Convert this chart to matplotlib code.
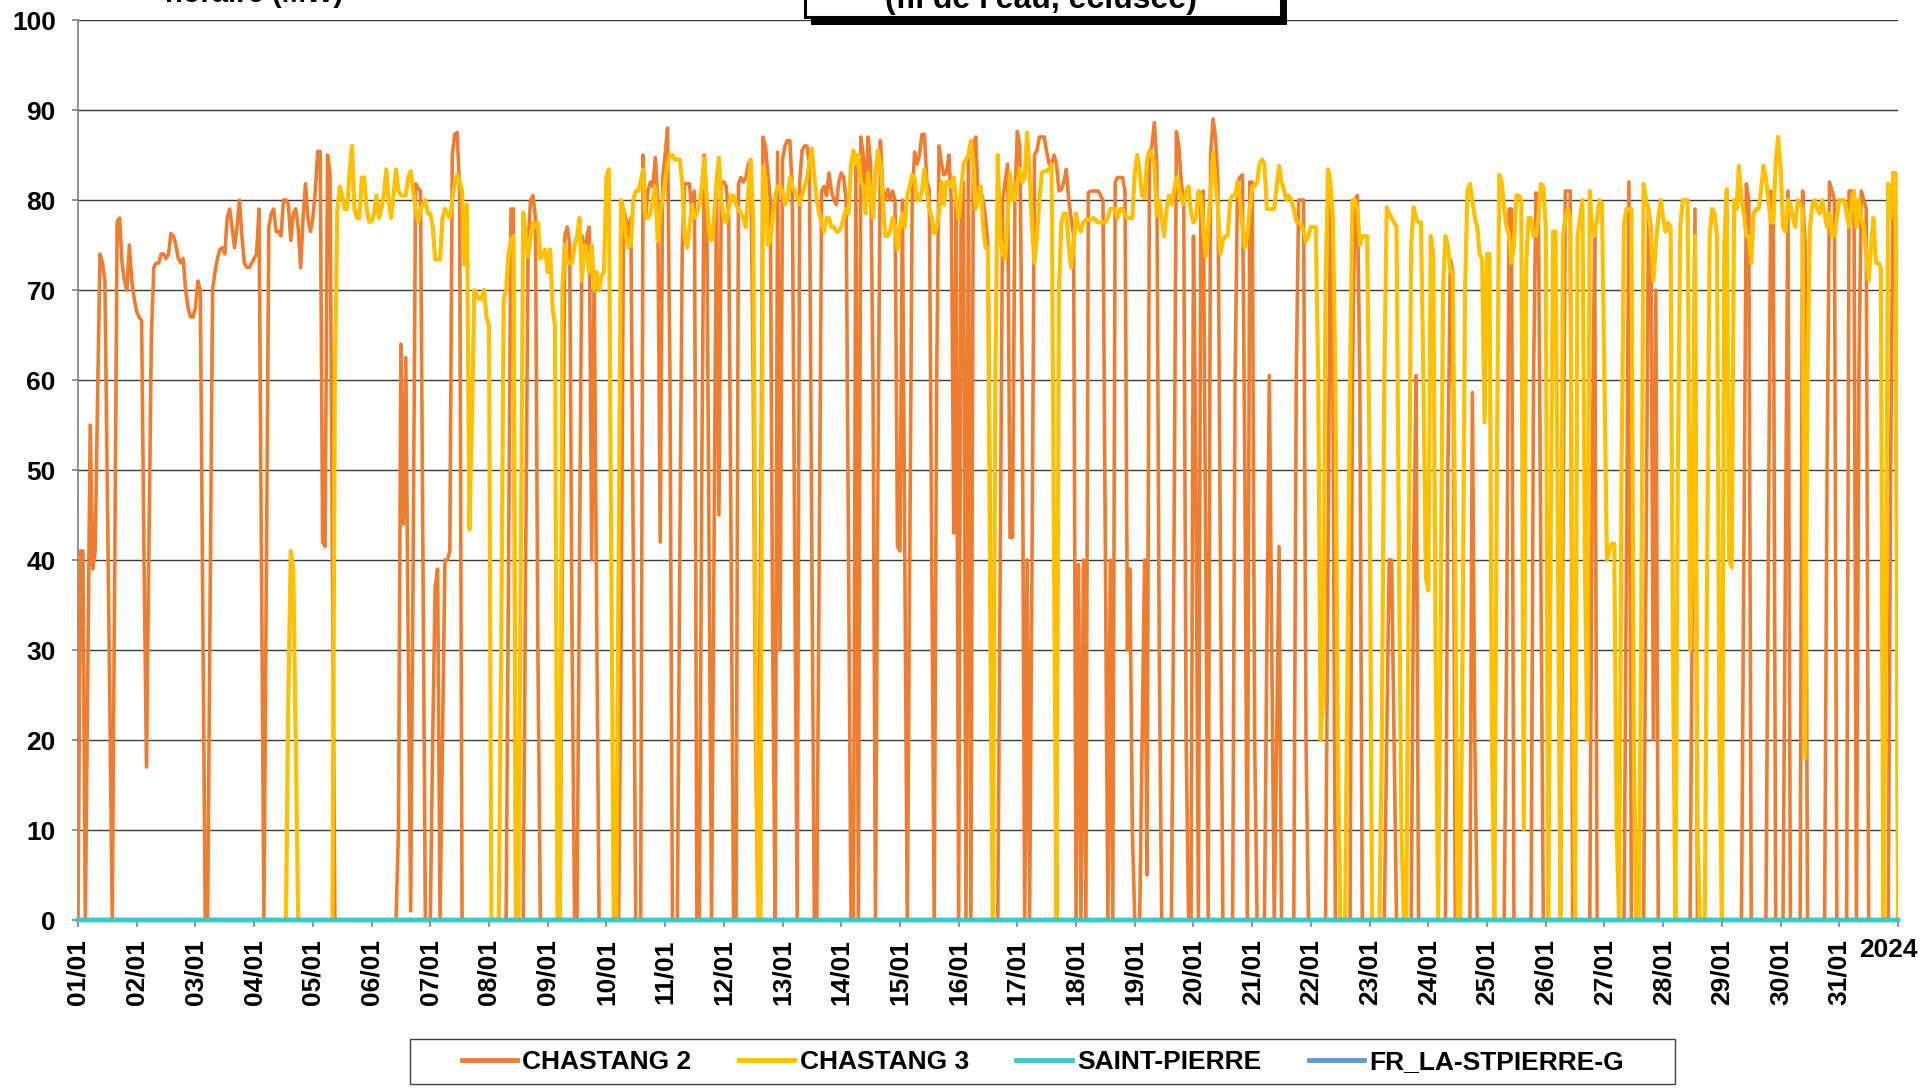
import matplotlib
matplotlib.use("Agg")
import matplotlib.pyplot as plt
from matplotlib.patches import Rectangle
from matplotlib.lines import Line2D
import numpy as np

plt.rcParams['font.family'] = ['Liberation Sans', 'DejaVu Sans']
plt.rcParams['font.weight'] = 'bold'

# hourly power (MW), January 2024, one list of 24 values per day
chastang2_days = [
    [0, 41, 41, 0, 28, 55, 39, 41, 58, 74, 73, 71, 48, 24, 0, 38, 77.6, 78, 73, 71, 70, 75, 71, 69],
    [67.6, 67, 66.6, 40, 17, 42, 65, 72.5, 73, 73, 74, 74, 73.5, 74, 76.3, 76, 75, 73.5, 73, 73.5, 70, 68, 67, 67],
    [68, 71, 70, 35, 0, 0, 35, 70, 72, 73.5, 74.5, 74.7, 74, 78, 79, 77, 74.7, 77, 80, 76, 73, 72.5, 72.5, 73],
    [73.5, 74, 79, 40, 0, 38, 77, 78.5, 79, 76.5, 76.5, 76, 80, 80, 79.5, 75.5, 78.5, 79, 77, 72.5, 78, 81.8, 78, 76.5],
    [78, 81, 85.4, 85.4, 42, 41.5, 85, 83, 40, 0, 0, 0, 0, 0, 0, 0, 0, 0, 0, 0, 0, 0, 0, 0],
    [0, 0, 0, 0, 0, 0, 0, 0, 0, 0, 0, 10, 64, 44, 62.5, 30, 1, 40, 81.8, 81.3, 81, 40, 0, 0],
    [0, 20, 37, 39, 0, 20, 40, 40, 41, 85, 87.3, 87.5, 81, 0, 0, 0, 0, 0, 0, 0, 0, 0, 0, 0],
    [0, 0, 0, 0, 0, 0, 0, 0, 40, 79, 79, 0, 0, 0, 0, 40, 75, 80, 80.5, 78, 30, 0, 0, 0],
    [0, 0, 0, 0, 0, 0, 40, 76, 77, 75, 30, 0, 0, 40, 76, 74, 76, 77, 40, 72, 35, 0, 0, 0],
    [0, 0, 0, 0, 0, 0, 30, 79, 78, 76, 78, 40, 0, 0, 0, 85, 78, 81, 82, 81.5, 84.7, 80, 42, 82.5],
    [85, 88, 60, 0, 0, 0, 40, 74.7, 81.8, 81.8, 81.8, 78, 81, 0, 0, 50, 85, 80, 40, 0, 40, 81.8, 45, 82],
    [82, 81.5, 78, 40, 0, 0, 81.8, 82.5, 82, 82.5, 84, 84.5, 60, 20, 0, 40, 87, 86, 83, 80, 30, 0, 85.3, 30],
    [84.5, 86, 86.6, 86.6, 81, 40, 0, 82, 85.5, 86, 86, 84, 40, 0, 0, 40, 81, 81.5, 80.5, 83, 81, 80, 79.5, 82],
    [83, 82.5, 80, 40, 0, 0, 85, 0, 87, 85, 80, 87, 84, 60, 0, 50, 86.6, 81, 80, 81.2, 80, 81, 80, 41.5],
    [41, 80, 40, 0, 40, 80, 85.3, 84, 85, 87.3, 87.3, 82, 81.2, 40, 0, 60, 86, 84, 82.8, 83, 85, 80, 43, 80],
    [0, 80, 82, 0, 84.7, 0, 86, 87, 80, 81, 80, 78, 75, 40, 0, 0, 0, 40, 80, 82, 84, 42.5, 42.5, 80],
    [87.6, 86, 60, 0, 40, 0, 40, 85, 85.5, 87, 87, 87, 85.3, 84, 84, 85, 84, 81, 81.2, 82, 83.4, 80, 78, 76],
    [0, 39.5, 0, 40, 0, 80.8, 81, 81, 81, 81, 80.5, 80, 40, 0, 40, 0, 82, 82.5, 82.5, 82.5, 81, 30, 39, 10],
    [0, 0, 0, 20, 40, 5, 85, 86, 88.6, 84, 30, 0, 0, 0, 0, 0, 40, 87.6, 86, 82, 80, 20, 0, 0],
    [76, 50, 0, 80.5, 81, 40, 0, 85, 89, 87, 82, 40, 0, 0, 0, 0, 0, 60, 82, 82.5, 82.8, 50, 0, 82],
    [82, 20, 0, 0, 0, 0, 30, 60.5, 30, 0, 20, 41.5, 0, 0, 0, 0, 0, 0, 60, 80, 80, 80, 20, 0],
    [0, 0, 0, 0, 0, 0, 0, 40, 81, 60, 0, 0, 0, 0, 0, 0, 0, 60, 80, 80.5, 60, 0, 0, 0],
    [0, 0, 0, 0, 0, 0, 0, 20, 40, 40, 20, 0, 0, 0, 0, 0, 0, 0, 40, 60.5, 0, 0, 0, 0],
    [0, 0, 0, 0, 0, 0, 0, 0, 50, 73.4, 72, 0, 0, 0, 0, 0, 0, 0, 58.6, 20, 0, 0, 0, 0],
    [0, 0, 0, 0, 0, 0, 0, 0, 30, 79, 79, 0, 0, 0, 0, 0, 0, 0, 0, 60, 80.8, 79, 40, 0],
    [0, 0, 0, 0, 0, 0, 0, 40, 81, 81, 81, 0, 0, 0, 0, 0, 0, 0, 0, 50, 76, 0, 0, 0],
    [0, 0, 0, 0, 0, 0, 0, 0, 0, 40, 82, 0, 0, 0, 0, 0, 0, 40, 79, 77, 20, 70, 0, 0],
    [0, 0, 0, 0, 0, 0, 0, 0, 0, 0, 0, 0, 40, 79, 0, 0, 0, 0, 0, 0, 0, 0, 0, 0],
    [0, 0, 0, 0, 0, 0, 0, 0, 0, 40, 81.8, 80, 0, 0, 0, 0, 0, 0, 0, 40, 81, 80, 0, 0],
    [0, 0, 40, 81, 0, 0, 0, 0, 0, 81, 75, 0, 0, 0, 0, 0, 0, 0, 0, 50, 82, 81, 80, 0],
    [0, 0, 0, 0, 81, 81, 81, 0, 60, 81, 80, 79, 0, 0, 0, 0, 0, 0, 0, 0, 0, 50, 83, 78],
]
chastang2_end = 0

chastang3_days = [
    [0] * 24,
    [0] * 24,
    [0] * 24,
    [0, 0, 0, 0, 0, 0, 0, 0, 0, 0, 0, 0, 0, 0, 25, 41, 39, 20, 0, 0, 0, 0, 0, 0],
    [0, 0, 0, 0, 0, 0, 0, 0, 0, 60, 79, 81.5, 80.5, 79, 79, 83, 86, 79, 78, 78, 82.5, 82.5, 79, 77.6],
    [77.6, 78.5, 80.5, 78, 79, 80.5, 83.4, 80, 78, 80.5, 83.4, 81, 80.5, 80.5, 80.5, 82.5, 83.2, 81, 79, 77.6, 79, 79.5, 80, 78.5],
    [78.5, 77, 73.4, 73.4, 73.4, 78, 79, 78.5, 78, 80, 81.8, 82.8, 82, 81, 72.8, 79.5, 43.4, 55, 70, 69.5, 69, 69, 70, 67],
    [66, 0, 0, 0, 0, 30, 69, 70, 74, 75.5, 76, 0, 0, 40, 78.6, 76, 73.7, 76, 77.5, 77, 77.5, 73.5, 74, 74.5],
    [72, 74.5, 68, 66, 0, 0, 70, 75, 73, 73, 73, 75, 76, 78, 71, 75, 74, 72, 75, 70, 72, 70, 71.5, 72],
    [82.5, 83.4, 40, 0, 0, 40, 80, 79, 76, 74.7, 75, 80, 81, 81, 82, 83.4, 78, 78, 78.5, 80, 81.5, 75.4, 78.5, 80],
    [82, 84, 85, 85, 84.5, 84.5, 84.5, 82, 76, 74.7, 77, 79.5, 78, 78.5, 79.5, 81.5, 84.7, 80, 76.5, 75.5, 78, 82, 84.7, 80],
    [78, 77.5, 79, 80.5, 80.5, 79.5, 79, 78.5, 78, 77, 81, 84.4, 78, 30, 0, 0, 83.7, 82.5, 75, 75.5, 78, 80.5, 81.5, 81.5],
    [81, 79.5, 80, 82.5, 81.5, 81, 80.5, 79.5, 80.5, 81.5, 82.5, 84, 85.7, 82.5, 80, 78.5, 77.5, 76.5, 78, 78, 77, 77, 76.5, 76.5],
    [77, 78, 79, 78.5, 84, 85.5, 84, 85, 82, 81.5, 78.5, 83, 81, 78, 83, 85.5, 84, 80, 76, 76, 76.5, 78, 77, 74.5],
    [77, 78.5, 77, 80.5, 81.5, 82.8, 82.5, 80, 80, 81, 83.4, 81, 79, 78, 76.3, 77, 78.5, 82, 79.5, 82, 82, 81.5, 82.5, 80],
    [78, 81, 84, 84.5, 85, 86.6, 84, 79, 80, 81.5, 77, 74.7, 74.7, 30, 0, 60, 85, 76, 74, 73.5, 78, 83, 80, 80],
    [82, 83.5, 82, 82.5, 87.5, 83, 77, 73, 76, 80, 83, 83.2, 83.2, 83.5, 84, 40, 0, 70, 77.5, 78.5, 78.5, 75, 72.5, 75],
    [78.5, 77, 76.5, 77.5, 77.8, 77.8, 77.8, 78, 77.8, 77.5, 77.5, 77.5, 77.5, 78, 79, 79, 79, 78, 79, 79, 78.3, 78, 78, 78],
    [83, 85, 83, 80.5, 80.2, 84.5, 85.5, 85, 84, 78.3, 80, 78, 76, 79, 80.5, 79.5, 81, 82.5, 81.5, 80, 79.5, 81, 81.5, 78.5],
    [77.5, 78, 81, 80.5, 77, 73.7, 77, 81, 85.3, 82, 79, 74, 75.5, 76, 76, 80, 80.5, 80.5, 82, 80, 77, 74.7, 76, 79],
    [81.5, 81.5, 82, 84, 84.5, 84, 79, 79, 79, 79, 81.5, 83.8, 82, 81, 80, 80.5, 80, 79, 77.6, 77.5, 77.3, 76.5, 75.4, 76],
    [77, 77, 77, 60, 20, 25, 70, 83.4, 82, 78, 60, 20, 0, 0, 0, 30, 60, 80, 80, 79, 75, 76, 76, 76],
    [50, 0, 0, 0, 0, 20, 60, 79.2, 78.5, 78, 77.5, 77, 40, 10, 0, 0, 40, 75, 79.2, 78, 77.5, 77.5, 60, 38],
    [36.6, 76, 74, 30, 0, 30, 70, 76, 75, 72, 72, 40, 0, 0, 30, 70, 81, 81.8, 80, 78, 77, 74, 73.4, 55.3],
    [74, 74, 20, 0, 50, 82.8, 82, 79, 77, 76, 73, 75, 80.5, 80.5, 80, 10, 73, 78, 78, 76, 76, 78, 81.8, 81.5],
    [77, 0, 40, 76.5, 76.5, 40, 0, 76, 78, 79, 78, 30, 0, 76, 78, 80, 40, 20, 81, 77, 76, 78, 80, 79.5],
    [60, 40, 41, 41.8, 41.8, 10, 0, 50, 77.3, 79, 79, 79, 20, 0, 0, 30, 81.8, 80, 79, 76, 71, 75, 78, 80],
    [78, 76.5, 77.5, 77, 30, 0, 50, 77, 80, 80, 80, 30, 40, 76, 10, 0, 0, 0, 40, 76, 79, 78.5, 76, 20],
    [0, 75, 81.2, 40, 39.2, 80, 79, 83.8, 80, 78.5, 76, 76, 73, 78.5, 79, 79, 81, 83.8, 82.5, 80, 77.5, 77.5, 84, 87],
    [83.5, 77, 76.5, 80, 79.5, 78, 77, 80, 79.5, 79, 18, 60, 77, 79.5, 80, 79, 78.5, 80, 78.5, 77, 78.5, 76, 76, 78],
    [80, 80, 80, 78.5, 77, 79.5, 81, 77, 80, 78, 77, 74, 71, 75, 78, 73, 73, 72.5, 0, 30, 81.8, 78, 82.8, 83],
]
chastang3_end = 0

# the two Saint-Pierre series stay at 0 MW the whole month
saint_pierre = [0] * 745
fr_la_stpierre = [0] * 745

day_labels = ["%02d/01" % d for d in range(1, 32)]
year_label = "2024"
series_names = ["CHASTANG 2", "CHASTANG 3", "SAINT-PIERRE", "FR_LA-STPIERRE-G"]
colors = ["#ED7D31", "#FFC000", "#33CCCC", "#5B9BD5"]

c2 = [v for day in chastang2_days for v in day] + [chastang2_end]
c3 = [v for day in chastang3_days for v in day] + [chastang3_end]
hours = np.arange(len(c2)) / 24.0   # days since 01/01 00:00

W, H = 1920, 1089
fig = plt.figure(figsize=(W / 100, H / 100), dpi=100)
ax = fig.add_axes([78 / W, 1 - 920 / H, 1820 / W, 900 / H])

ax.plot(hours, c2, color=colors[0], lw=2.6, zorder=3, solid_joinstyle="round")
ax.plot(hours, c3, color=colors[1], lw=3.0, zorder=4, solid_joinstyle="round")
ax.plot(hours, fr_la_stpierre, color=colors[3], lw=3.2, zorder=5, clip_on=False)
ax.plot(hours, saint_pierre, color=colors[2], lw=3.2, zorder=6, clip_on=False)

ax.set_xlim(0, 31)
ax.set_ylim(0, 100)
ax.set_yticks(np.arange(0, 101, 10))
ax.yaxis.grid(True, color="#3a3a3a", lw=1.0)
ax.set_axisbelow(True)

for s in ["top", "right"]:
    ax.spines[s].set_visible(False)
ax.spines["left"].set_color("#808080")
ax.spines["left"].set_linewidth(1.2)
ax.spines["bottom"].set_color("#808080")

ax.set_xticks(np.arange(32))
ax.set_xticklabels(day_labels + [""], rotation=90, fontsize=19, fontweight="bold")
ax.tick_params(axis="x", direction="out", length=5, width=1.2, color="#808080", pad=9)
ax.tick_params(axis="y", direction="out", length=4, width=1.2, color="#808080", pad=12,
               labelsize=19)
for lab in ax.get_yticklabels():
    lab.set_fontweight("bold")

fig.text(1888 / W, 1 - 938 / H, year_label, ha="center", va="top", fontsize=19, fontweight="bold")

# cut-off titles at the top of the picture
fig.text(165 / W, 1 - 2 / H, "horaire (MW)", ha="left", va="baseline", fontsize=21,
         fontweight="bold")
fig.patches.append(Rectangle((811 / W, 1 - 25 / H), 476 / W, 80 / H, transform=fig.transFigure,
                             facecolor="black", edgecolor="none", zorder=5))
fig.patches.append(Rectangle((805 / W, 1 - 17 / H), 476 / W, 80 / H, transform=fig.transFigure,
                             facecolor="white", edgecolor="black", lw=2.2, zorder=6))
fig.text(1041 / W, 1 - 8 / H, "(fil de l'eau, éclusée)", ha="center", va="baseline",
         fontsize=23, fontweight="bold", zorder=7)

# legend
handles = [Line2D([0], [0], color=c, lw=3.5) for c in colors]
fig.legend(handles, series_names, loc="center", bbox_to_anchor=(1043 / W, 1 - 1062 / H),
           ncol=4, frameon=False, prop={"size": 19, "weight": "bold"},
           handlelength=2.1, handletextpad=0.2, columnspacing=1.8)
fig.patches.append(Rectangle((410 / W, 1 - 1084 / H), 1265 / W, 45 / H, transform=fig.transFigure,
                             facecolor="none", edgecolor="#404040", lw=1.0))

fig.savefig("out.png", dpi=100)
